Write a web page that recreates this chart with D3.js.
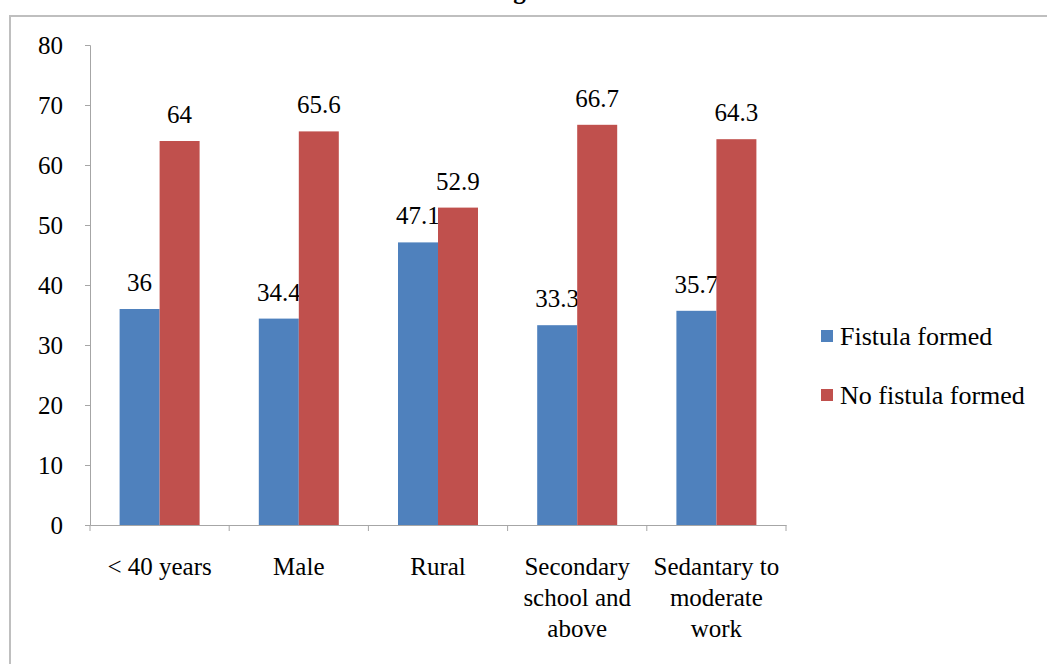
<!DOCTYPE html>
<html>
<head>
<meta charset="utf-8">
<script src="https://cdn.jsdelivr.net/npm/d3@7"></script>
<style>
  html, body { margin: 0; padding: 0; background: #fff; }
  svg { display: block; }
  text { font-family: "Liberation Serif", "Times New Roman", serif; fill: #000; }
</style>
</head>
<body>
<svg id="chart" width="1047" height="664"></svg>
<script>
const categories = ["< 40 years", "Male", "Rural", "Secondary school and above", "Sedantary to moderate work"];
const categoryLines = [["< 40 years"], ["Male"], ["Rural"], ["Secondary", "school and", "above"], ["Sedantary to", "moderate", "work"]];
const seriesNames = ["Fistula formed", "No fistula formed"];
const fistulaFormed = [36, 34.4, 47.1, 33.3, 35.7];
const noFistulaFormed = [64, 65.6, 52.9, 66.7, 64.3];
const yTicks = [0, 10, 20, 30, 40, 50, 60, 70, 80];
const colors = ["#4F81BD", "#C0504D"];
const titleText = "Figure 1";

const seriesValues = [fistulaFormed, noFistulaFormed];
const svg = d3.select("#chart");

// outer frame
svg.append("rect").attr("x", 10).attr("y", 16).attr("width", 1046).attr("height", 660)
  .attr("fill", "none").attr("stroke", "#bfbfbf").attr("stroke-width", 2);

// title (clipped by the top edge, as in the reference)
svg.append("text").attr("x", 491).attr("y", -1).attr("text-anchor", "start")
  .attr("font-size", 25).attr("font-weight", "bold").text(titleText);

const pLeft = 90, pRight = 786, pTop = 45, pBottom = 525;

const x0 = d3.scaleBand().domain(categories).range([pLeft, pRight]).paddingInner(0).paddingOuter(0);
const x1 = d3.scaleBand().domain(seriesNames).range([0, x0.bandwidth()]).paddingInner(0).paddingOuter(0.74);
const y = d3.scaleLinear().domain([0, 80]).range([pBottom, pTop]);

// y axis
const yAxis = d3.axisLeft(y).tickValues(yTicks).tickSize(5).tickPadding(22).tickFormat(d3.format("d"));
const gy = svg.append("g").attr("transform", `translate(${pLeft},0)`).call(yAxis);
gy.select(".domain").attr("stroke", "#a6a6a6").attr("stroke-width", 1);
gy.selectAll(".tick line").attr("stroke", "#a6a6a6");
gy.selectAll(".tick text").attr("font-size", 25).attr("font-family", "Liberation Serif, serif").attr("fill", "#000").attr("dy", "0.33em");

// bars
const groups = svg.append("g").selectAll("g").data(categories).join("g")
  .attr("transform", d => `translate(${x0(d)},0)`);

seriesNames.forEach((s, si) => {
  groups.append("rect")
    .attr("x", x1(s))
    .attr("y", (d, i) => y(seriesValues[si][i]))
    .attr("width", x1.bandwidth())
    .attr("height", (d, i) => y(0) - y(seriesValues[si][i]))
    .attr("fill", colors[si]);
  groups.append("text")
    .attr("x", x1(s) + x1.bandwidth() / 2)
    .attr("y", (d, i) => y(seriesValues[si][i]) - 18)
    .attr("text-anchor", "middle")
    .attr("font-size", 25)
    .text((d, i) => seriesValues[si][i]);
});

// x axis
const xAxis = d3.axisBottom(x0).tickSize(0).tickFormat("");
const gx = svg.append("g").attr("transform", `translate(0,${pBottom})`).call(xAxis);
gx.select(".domain").attr("stroke", "#a6a6a6");
const boundaries = categories.map(c => x0(c)).concat([pRight]);
gx.selectAll("line.bnd").data(boundaries).join("line").attr("class", "bnd")
  .attr("x1", d => d).attr("x2", d => d).attr("y1", 0).attr("y2", 6).attr("stroke", "#a6a6a6");

// category labels
categories.forEach((c, i) => {
  const t = svg.append("text").attr("text-anchor", "middle").attr("font-size", 25);
  categoryLines[i].forEach((ln, li) => {
    t.append("tspan").attr("x", x0(c) + x0.bandwidth() / 2).attr("y", 575 + li * 31).text(ln);
  });
});

// legend
const lg = svg.append("g").selectAll("g").data(seriesNames).join("g")
  .attr("transform", (d, i) => `translate(821,${330 + i * 59})`);
lg.append("rect").attr("width", 12).attr("height", 12).attr("fill", (d, i) => colors[i]);
lg.append("text").attr("x", 19).attr("y", 15).attr("font-size", 26).text(d => d);
</script>
</body>
</html>
